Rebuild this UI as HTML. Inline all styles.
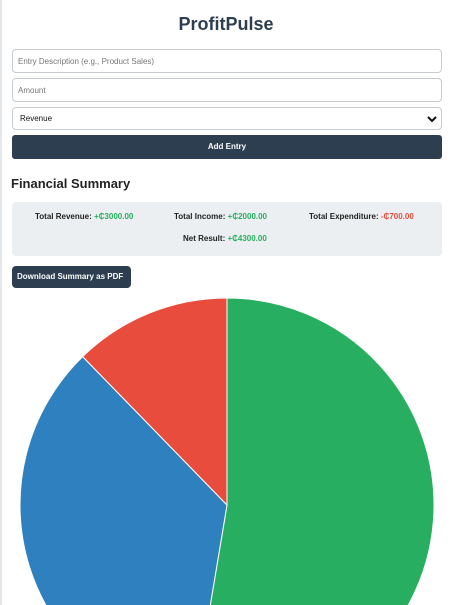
<!DOCTYPE html>
<html><head><meta charset="utf-8"><style>
html{overflow:hidden;height:605px}
body{margin:0;width:452px;height:605px;overflow:hidden;background:#fff;font-family:"Liberation Sans",sans-serif;position:relative}
.strip{position:absolute;left:0;top:0;width:2px;height:605px;background:#e5e8eb}
.abs{position:absolute;box-sizing:border-box}
.inp{left:12px;width:430px;border:1px solid #c8ccd0;border-radius:4px;font-size:8px;color:#777;padding-left:5px;display:flex;align-items:center}
</style></head><body>
<div class="strip"></div>
<div class="abs" style="left:0;width:452px;top:14px;text-align:center;font-size:18px;font-weight:bold;color:#2c3e50">ProfitPulse</div>
<div class="abs inp" style="top:49px;height:24px">Entry Description (e.g., Product Sales)</div>
<div class="abs inp" style="top:78px;height:24px">Amount</div>
<div class="abs inp" style="top:107px;height:23px;color:#111;padding-left:7px">Revenue<svg style="position:absolute;right:4px;top:7px" width="10" height="8"><path d="M1,2 L5,6 L9,2" stroke="#111" stroke-width="2" fill="none"/></svg></div>
<div class="abs" style="left:12px;top:135px;width:430px;height:24px;background:#2c3e50;border-radius:3px;color:#fff;font-size:8px;font-weight:bold;text-align:center;line-height:24px">Add Entry</div>
<div class="abs" style="left:11px;top:176px;font-size:13px;font-weight:bold;color:#222">Financial Summary</div>
<div class="abs" style="left:12px;top:202px;width:430px;height:54px;background:#eceff1;border-radius:4px;font-size:8px;color:#222;font-weight:bold">
<div style="position:absolute;left:23px;top:10px">Total Revenue: <span style="color:#27ae60">+₵3000.00</span></div>
<div style="position:absolute;left:162px;top:10px">Total Income: <span style="color:#27ae60">+₵2000.00</span></div>
<div style="position:absolute;left:297px;top:10px">Total Expenditure: <span style="color:#e74c3c">-₵700.00</span></div>
<div style="position:absolute;left:171px;top:32px">Net Result: <span style="color:#27ae60">+₵4300.00</span></div>
</div>
<div class="abs" style="left:12px;top:266px;width:119px;height:22px;background:#2c3e50;border-radius:4px;color:#fff;font-size:8px;font-weight:bold;line-height:22px;padding-left:5px">Download Summary as PDF</div>
<svg class="abs" style="left:0;top:0" width="452" height="605" id="pie"></svg>
<script>
const categories=["Revenue","Income","Expenditure"];
const values=[3000,2000,700];
const colors=["#27ae60","#2e80bf","#e74c3c"];
const svg=document.getElementById('pie');
const cx=227,cy=505,r=207;
const total=values.reduce((a,b)=>a+b,0);
let a0=0;
values.forEach((v,i)=>{
  const a1=a0+v/total*2*Math.PI;
  const p=(a)=>[cx+r*Math.sin(a),cy-r*Math.cos(a)];
  const [x0,y0]=p(a0),[x1,y1]=p(a1);
  const large=(a1-a0)>Math.PI?1:0;
  const path=document.createElementNS('http://www.w3.org/2000/svg','path');
  path.setAttribute('d',`M${cx},${cy}L${x0},${y0}A${r},${r} 0 ${large} 1 ${x1},${y1}Z`);
  path.setAttribute('fill',colors[i]);
  path.setAttribute('stroke','#fff');
  path.setAttribute('stroke-width','1');
  
  
  svg.appendChild(path);
  a0=a1;
});
</script>
</body></html>
